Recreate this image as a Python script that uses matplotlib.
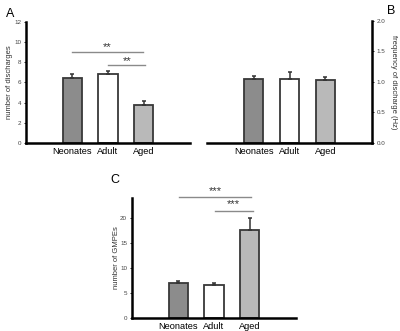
import numpy as np
import matplotlib
matplotlib.use("Agg")
import matplotlib.pyplot as plt

plt.rcParams['font.family'] = ['Liberation Sans', 'DejaVu Sans']

groups = ["Neonates", "Adult", "Aged"]
colors = ["#8c8c8c", "#ffffff", "#b9b9b9"]

# panel A: number of discharges
disch_mean = [6.4, 6.8, 3.8]
disch_err = [0.45, 0.3, 0.35]
# panel B: frequency of discharge (Hz)
freq_mean = [1.05, 1.05, 1.03]
freq_err = [0.05, 0.11, 0.05]
# panel C: number of GMPEs
gmpe_mean = [7.0, 6.6, 17.6]
gmpe_err = [0.3, 0.4, 2.4]

x = np.arange(len(groups))


def draw_bars(ax, means, errs, ylim, yticks, ticklabels):
    ax.bar(x, means, width=0.55, color=colors, edgecolor="#383838",
           linewidth=1.3, zorder=2)
    ax.errorbar(x, means, yerr=[np.zeros(len(errs)), errs], fmt="none",
                ecolor="#333333", elinewidth=1.1, capsize=1.6, capthick=1.1,
                zorder=3)
    ax.set_xlim(-1.3, 3.3)
    ax.set_ylim(*ylim)
    ax.set_xticks(x)
    ax.set_xticklabels(groups, fontsize=6.7)
    ax.set_yticks(yticks)
    ax.set_yticklabels(ticklabels, fontsize=4.5, color="#444444")
    ax.tick_params(axis="x", length=0, pad=3)
    ax.tick_params(axis="y", length=1.5, width=0.6, pad=2)
    for s in ["top", "right", "left", "bottom"]:
        ax.spines[s].set_visible(False)
    ax.spines["bottom"].set_visible(True)
    ax.spines["bottom"].set_linewidth(1.8)


def sig_line(ax, x0, x1, y, ystar, label):
    ax.plot([x0, x1], [y, y], color="#8a8a8a", lw=1.0, clip_on=False)
    ax.text((x0 + x1) / 2, ystar, label, ha="center", va="center",
            fontsize=8, color="#333333", clip_on=False)


fig = plt.figure(figsize=(4.0, 3.31), dpi=100)

# A
axA = fig.add_axes([0.065, 0.568, 0.41, 0.366])
draw_bars(axA, disch_mean, disch_err, (0, 12), np.arange(0, 13, 2),
          [str(v) for v in range(0, 13, 2)])
axA.spines["left"].set_visible(True)
axA.spines["left"].set_linewidth(1.8)
axA.set_ylabel("number of discharges", fontsize=5.5, color="#333333",
               labelpad=1)
sig_line(axA, 0.0, 1.98, 9.0, 9.5, "**")
sig_line(axA, 1.0, 2.05, 7.7, 8.1, "**")
fig.text(0.015, 0.975, "A", fontsize=9, va="top")

# B
axB = fig.add_axes([0.5175, 0.569, 0.4125, 0.368])
draw_bars(axB, freq_mean, freq_err, (0, 2.0), np.arange(0, 2.01, 0.5),
          ["0.0", "0.5", "1.0", "1.5", "2.0"])
axB.yaxis.tick_right()
axB.yaxis.set_label_position("right")
axB.spines["right"].set_visible(True)
axB.spines["right"].set_linewidth(1.8)
axB.set_ylabel("frequency of discharge (Hz)", fontsize=5.5, color="#333333",
               rotation=270, labelpad=8)
fig.text(0.968, 0.985, "B", fontsize=9, va="top")

# C
axC = fig.add_axes([0.33, 0.040, 0.41, 0.362])
draw_bars(axC, gmpe_mean, gmpe_err, (0, 24), np.arange(0, 21, 5),
          [str(v) for v in range(0, 21, 5)])
axC.spines["left"].set_visible(True)
axC.spines["left"].set_linewidth(1.8)
axC.set_ylabel("number of GMPEs", fontsize=5.5, color="#333333",
               labelpad=0)
sig_line(axC, 0.03, 2.05, 24.1, 25.3, "***")
sig_line(axC, 1.02, 2.08, 21.4, 22.8, "***")
fig.text(0.275, 0.475, "C", fontsize=9, va="top")

fig.savefig("out.png", dpi=100)
